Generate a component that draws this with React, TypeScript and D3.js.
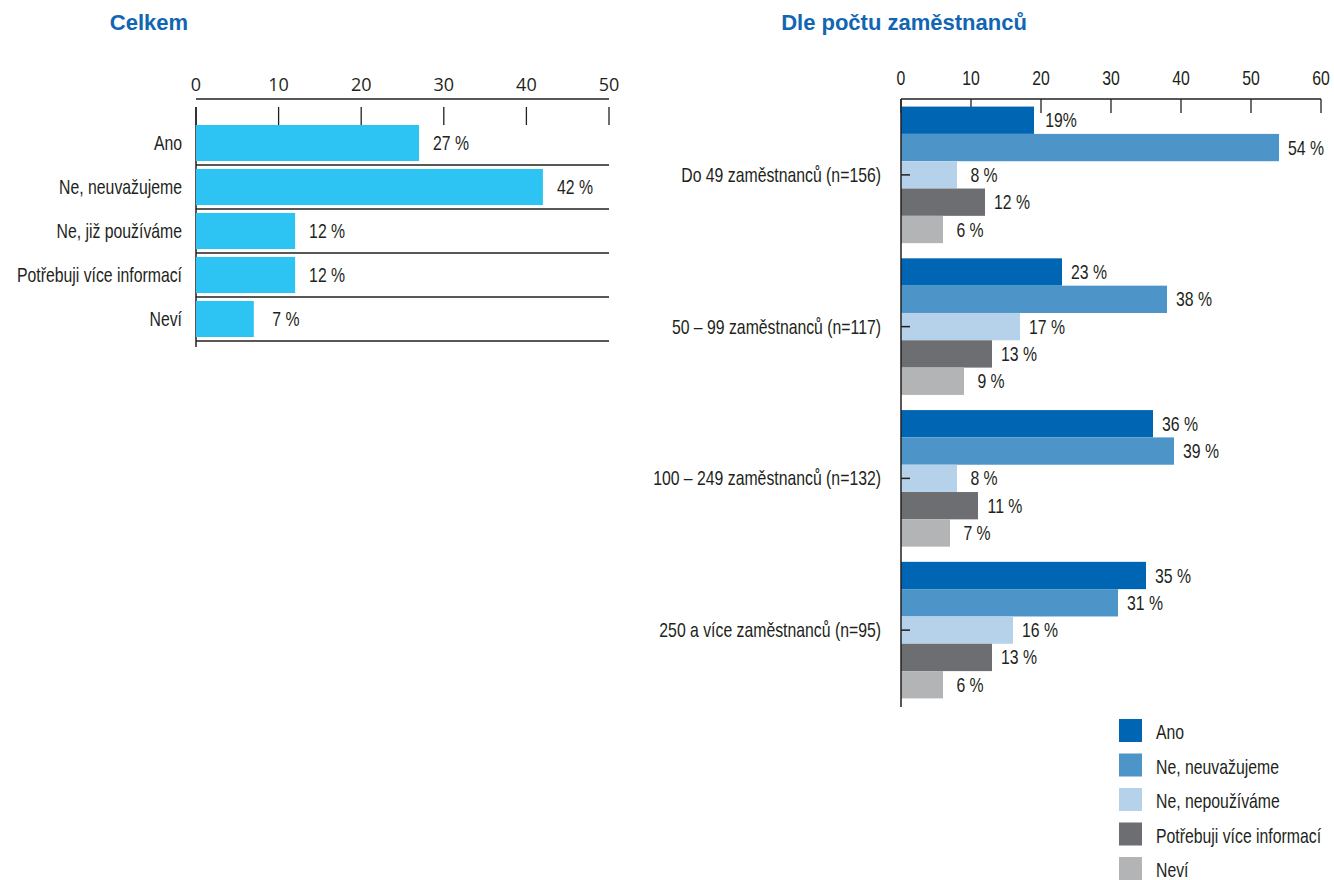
import * as d3 from "d3";
import React from "react";

const totalCategories = [
  "Ano",
  "Ne, neuvažujeme",
  "Ne, již používáme",
  "Potřebuji více informací",
  "Neví",
];
const totalValues = [27, 42, 12, 12, 7];
const totalLabels = ["27 %", "42 %", "12 %", "12 %", "7 %"];
const totalTicks = [0, 10, 20, 30, 40, 50];

const groups = [
  "Do 49 zaměstnanců (n=156)",
  "50 – 99 zaměstnanců (n=117)",
  "100 – 249 zaměstnanců (n=132)",
  "250 a více zaměstnanců (n=95)",
];
const seriesNames = [
  "Ano",
  "Ne, neuvažujeme",
  "Ne, nepoužíváme",
  "Potřebuji více informací",
  "Neví",
];
const seriesValues = [
  [19, 54, 8, 12, 6],
  [23, 38, 17, 13, 9],
  [36, 39, 8, 11, 7],
  [35, 31, 16, 13, 6],
];
const seriesLabels = [
  ["19%", "54 %", "8 %", "12 %", "6 %"],
  ["23 %", "38 %", "17 %", "13 %", "9 %"],
  ["36 %", "39 %", "8 %", "11 %", "7 %"],
  ["35 %", "31 %", "16 %", "13 %", "6 %"],
];
const groupTicks = [0, 10, 20, 30, 40, 50, 60];

const SERIES_COLORS = ["#0066b3", "#4d94c8", "#b5d2ea", "#6d6e72", "#b3b4b6"];
const TOTAL_COLOR = "#2dc4f4";
const INK = "#231f20";
const TITLE = "#1166b3";

// no condensed font installed, so squeeze Liberation Sans horizontally
const Narrow = ({
  x,
  y,
  anchor = "start",
  children,
}: {
  x: number;
  y: number;
  anchor?: "start" | "middle" | "end";
  children: React.ReactNode;
}) => (
  <text
    transform={`translate(${x},${y}) scale(0.79,1)`}
    dy="0.35em"
    textAnchor={anchor}
    fill={INK}
    style={{ font: "20px 'Liberation Sans', sans-serif" }}
  >
    {children}
  </text>
);

export default function App() {
  // left chart
  const xL = d3.scaleLinear().domain([0, 50]).range([196, 609]);
  const yL = d3
    .scaleBand()
    .domain(totalCategories)
    .range([121, 341])
    .paddingInner(0.18)
    .paddingOuter(0.09);

  // right chart
  const xR = d3.scaleLinear().domain([0, 60]).range([901, 1321]);
  const yR = d3
    .scaleBand()
    .domain(groups)
    .range([99, 706])
    .paddingInner(0.1)
    .paddingOuter(0.05);
  const yS = d3
    .scaleBand()
    .domain(seriesNames)
    .range([0, yR.bandwidth()]);

  return (
    <svg
      width={1334}
      height={880}
      style={{ position: "absolute", left: 0, top: 0, background: "#fff" }}
    >
      {/* titles */}
      <text
        x={149}
        y={30}
        textAnchor="middle"
        fill={TITLE}
        style={{ font: "bold 22px 'Liberation Sans', sans-serif" }}
      >
        Celkem
      </text>
      <text
        x={904}
        y={30}
        textAnchor="middle"
        fill={TITLE}
        style={{ font: "bold 22px 'Liberation Sans', sans-serif" }}
      >
        Dle počtu zaměstnanců
      </text>

      {/* left axis */}
      <line x1={xL(0)} x2={xL(50)} y1={99} y2={99} stroke={INK} strokeWidth={1.5} />
      {totalTicks.map((t) => (
        <g key={t}>
          <line x1={xL(t)} x2={xL(t)} y1={107} y2={125} stroke={INK} strokeWidth={1.3} />
          <text
            x={xL(t)}
            y={91}
            textAnchor="middle"
            fill={INK}
            style={{ font: "18px 'Open Sans', sans-serif" }}
          >
            {t}
          </text>
        </g>
      ))}
      <line x1={xL(0)} x2={xL(0)} y1={107} y2={347} stroke={INK} strokeWidth={1.5} />
      {totalCategories.map((c, i) => (
        <g key={c}>
          <rect
            x={xL(0)}
            y={yL(c)!}
            width={xL(totalValues[i]) - xL(0)}
            height={yL.bandwidth()}
            fill={TOTAL_COLOR}
          />
          <line
            x1={xL(0)}
            x2={xL(50)}
            y1={yL(c)! + yL.bandwidth() + 4}
            y2={yL(c)! + yL.bandwidth() + 4}
            stroke={INK}
            strokeWidth={1.5}
          />
          <Narrow x={182} y={yL(c)! + yL.bandwidth() / 2} anchor="end">
            {c}
          </Narrow>
          <Narrow
            x={xL(totalValues[i]) + 32}
            y={yL(c)! + yL.bandwidth() / 2}
            anchor="middle"
          >
            {totalLabels[i]}
          </Narrow>
        </g>
      ))}

      {/* right axis */}
      <line x1={xR(0)} x2={xR(60)} y1={99} y2={99} stroke={INK} strokeWidth={1.5} />
      {groupTicks.map((t) => (
        <g key={t}>
          <line x1={xR(t)} x2={xR(t)} y1={99} y2={113} stroke={INK} strokeWidth={1.3} />
          <Narrow x={xR(t)} y={78} anchor="middle">
            {t}
          </Narrow>
        </g>
      ))}
      {groups.map((g, gi) => (
        <g key={g} transform={`translate(0,${yR(g)})`}>
          {seriesNames.map((s, si) => (
            <g key={s}>
              <rect
                x={xR(0)}
                y={yS(s)!}
                width={xR(seriesValues[gi][si]) - xR(0)}
                height={yS.bandwidth()}
                fill={SERIES_COLORS[si]}
              />
              <Narrow
                x={xR(seriesValues[gi][si]) + 27}
                y={yS(s)! + yS.bandwidth() / 2}
                anchor="middle"
              >
                {seriesLabels[gi][si]}
              </Narrow>
            </g>
          ))}
          <line
            x1={xR(0)}
            x2={xR(0) + 9}
            y1={yR.bandwidth() / 2}
            y2={yR.bandwidth() / 2}
            stroke={INK}
            strokeWidth={1.5}
          />
          <Narrow x={881} y={yR.bandwidth() / 2} anchor="end">
            {g}
          </Narrow>
        </g>
      ))}
      <line x1={xR(0)} x2={xR(0)} y1={99} y2={707} stroke={INK} strokeWidth={1.5} />

      {/* legend */}
      {seriesNames.map((s, i) => (
        <g key={s} transform={`translate(1119,${719 + i * 34.5})`}>
          <rect width={23} height={23} fill={SERIES_COLORS[i]} />
          <Narrow x={37} y={13}>
            {s}
          </Narrow>
        </g>
      ))}
    </svg>
  );
}
